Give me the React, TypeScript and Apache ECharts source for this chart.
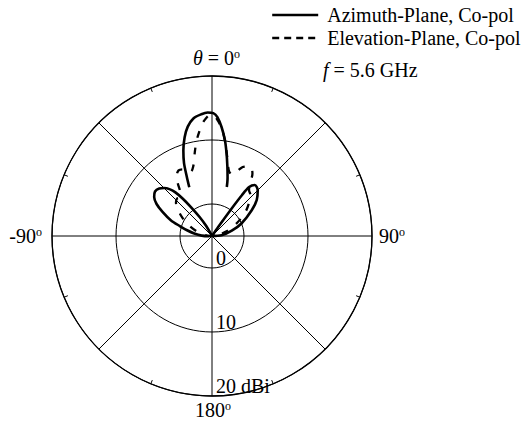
import React, { useEffect, useRef } from 'react';
import * as echarts from 'echarts';

const FONT = "'Liberation Serif', 'Times New Roman', serif";

const seriesNames = ['Azimuth-Plane, Co-pol', 'Elevation-Plane, Co-pol'];

// Azimuth plane (solid): angle in degrees, gain in dBi
const azLeftLobeAngles = [-97, -88, -82, -77, -73, -69, -64, -60, -56, -52, -48, -45, -42, -40, -38, -36, -33, -30, -27];
const azLeftLobeGain = [-4.6, -3.4, -2.2, -1.0, 0.2, 1.9, 3.6, 5.0, 5.9, 6.3, 6.1, 5.6, 4.8, 3.9, 2.4, 0.6, -1.5, -3.2, -5];

const azMainLobeAngles = [-25, -23, -21, -18.5, -15.5, -12.5, -9, -5, -2, 0.6, 2.6, 5, 7.7, 10, 12.5, 15, 16.8];
const azMainLobeGain = [3.4, 5.1, 7.2, 9.1, 11.0, 12.5, 13.6, 14.1, 14.3, 14.2, 13.6, 12.1, 10.1, 8.1, 6.1, 4.4, 3.0];

const azRightLobeAngles = [33, 34.5, 35.5, 36.2, 37.2, 40, 45, 51, 57, 67, 75, 86, 95];
const azRightLobeGain = [-5, -3.2, 0.1, 2.9, 4.6, 5.4, 5.1, 4.0, 2.4, 0.0, -1.8, -3.5, -5];

// Elevation plane (dashed)
const elAngles = [-95, -85, -75, -65, -58, -52, -47, -43, -39, -36, -33, -30, -27, -24, -21, -18, -15, -13, -11, -9, -7, -5, -3, -1, 1, 3, 5, 7, 9, 11, 13, 15, 18, 21, 24, 27, 30, 33, 36, 39, 43, 48, 54, 62, 72, 85, 95];
const elGain = [-5, -4.2, -2.8, -1.0, 0.5, 1.8, 2.7, 3.0, 2.8, 3.4, 4.8, 6.0, 6.5, 6.4, 5.8, 5.6, 6.3, 7.4, 8.8, 10.2, 11.4, 12.6, 13.4, 13.9, 13.8, 13.0, 12.0, 10.6, 9.0, 7.5, 6.2, 5.4, 5.1, 5.8, 6.8, 7.2, 7.3, 6.6, 5.0, 4.2, 3.8, 2.8, 1.5, -0.5, -2.6, -4.3, -5];

const radialLabels: Record<number, string> = { 0: '0', 10: '10', 20: '20 dBi' };
const angleLabels = [
  { text: '{th|θ} = 0{sup|o}', x: 193, y: 58, align: 'left' },
  { text: '90{sup|o}', x: 379, y: 236, align: 'left' },
  { text: '-90{sup|o}', x: 42, y: 236, align: 'right' },
  { text: '180{sup|o}', x: 195, y: 410, align: 'left' },
];
const freqLabel = '{i|f} = 5.6 GHz';

const zip = (angles: number[], gains: number[]) => angles.map((a, i) => [gains[i], a]);

export default function App() {
  const ref = useRef<HTMLDivElement>(null);
  useEffect(() => {
    if (!ref.current) return;
    const chart = echarts.init(ref.current, undefined, { renderer: 'svg' });
    const rich = {
      th: { fontStyle: 'italic', fontSize: 20, fontFamily: FONT },
      i: { fontStyle: 'italic', fontSize: 20, fontFamily: FONT },
      sup: { fontSize: 12, fontFamily: FONT, verticalAlign: 'top' },
    };
    const solidStyle = { color: '#000', width: 2.6, type: 'solid' };
    const dashStyle = { color: '#000', width: 2.3, type: [7, 10] };
    chart.setOption({
      animation: false,
      backgroundColor: '#fff',
      textStyle: { fontFamily: FONT },
      polar: { center: [212, 236], radius: 160 },
      angleAxis: {
        type: 'value',
        min: -180,
        max: 180,
        interval: 45,
        startAngle: -90,
        clockwise: true,
        axisLine: { show: true, lineStyle: { color: '#000', width: 1.3 } },
        axisTick: { show: false, inside: true },
        minorTick: { show: true, splitNumber: 2, length: 4, lineStyle: { color: '#000', width: 1 } },
        axisLabel: { show: false },
        splitLine: { show: true, lineStyle: { color: '#000', width: 1 } },
      },
      radiusAxis: {
        type: 'value',
        min: -5,
        max: 20,
        interval: 5,
        axisLine: { show: false },
        axisTick: { show: false },
        axisLabel: {
          show: true,
          formatter: (v: number) => radialLabels[v] ?? '',
          fontFamily: FONT,
          fontSize: 20,
          color: '#000',
          align: 'left',
          verticalAlign: 'bottom',
          margin: 4,
        },
        splitLine: { show: true, lineStyle: { color: ['rgba(0,0,0,0)', '#000'], width: 1 } },
      },
      legend: {
        orient: 'vertical',
        left: 271,
        top: 5,
        padding: 0,
        itemWidth: 46,
        itemHeight: 14,
        itemGap: 3,
        selectedMode: false,
        data: [
          { name: seriesNames[0], lineStyle: { width: 2.4, type: 'solid' } },
          { name: seriesNames[1], lineStyle: { width: 2.4, type: [7, 5] } },
        ],
        itemStyle: { color: 'rgba(0,0,0,0)', borderWidth: 0, opacity: 0 },
        textStyle: { fontFamily: FONT, fontSize: 20, color: '#000', padding: [0, 0, 0, 4] },
      },
      series: [
        { type: 'line', name: seriesNames[0], coordinateSystem: 'polar', data: zip(azLeftLobeAngles, azLeftLobeGain), symbol: 'none', smooth: 0.3, lineStyle: solidStyle, itemStyle: { color: '#000' }, z: 4 },
        { type: 'line', name: seriesNames[0], coordinateSystem: 'polar', data: zip(azMainLobeAngles, azMainLobeGain), symbol: 'none', smooth: 0.3, lineStyle: solidStyle, itemStyle: { color: '#000' }, z: 4 },
        { type: 'line', name: seriesNames[0], coordinateSystem: 'polar', data: zip(azRightLobeAngles, azRightLobeGain), symbol: 'none', smooth: 0.3, lineStyle: solidStyle, itemStyle: { color: '#000' }, z: 4 },
        { type: 'line', name: seriesNames[1], coordinateSystem: 'polar', data: zip(elAngles, elGain), symbol: 'none', smooth: 0.3, lineStyle: dashStyle, itemStyle: { color: '#000' }, z: 5 },
      ],
      graphic: [
        ...angleLabels.map((l) => ({
          type: 'text',
          x: l.x,
          y: l.y,
          style: { text: l.text, rich, fontSize: 20, fontFamily: FONT, fill: '#000', align: l.align, verticalAlign: 'middle' },
        })),
        {
          type: 'text',
          x: 323,
          y: 70,
          style: { text: freqLabel, rich, fontSize: 20, fontFamily: FONT, fill: '#000', align: 'left', verticalAlign: 'middle' },
        },
      ],
    });
    return () => chart.dispose();
  }, []);
  return <div ref={ref} style={{ position: 'absolute', left: 0, top: 0, width: 528, height: 421, background: '#fff' }} />;
}
